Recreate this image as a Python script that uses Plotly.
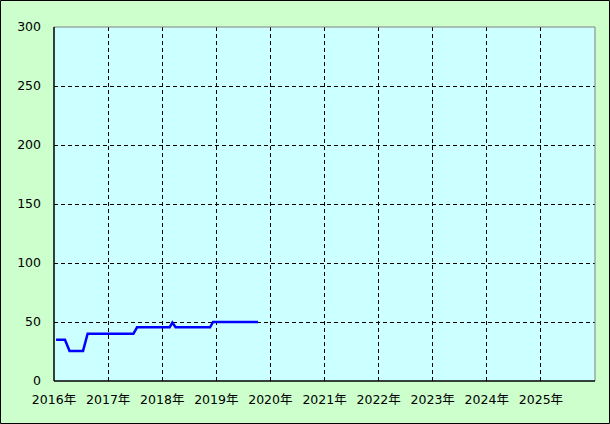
import plotly.graph_objects as go

dates = ["2016-01-15", "2016-03-15", "2016-04-15", "2016-07-15", "2016-08-15",
         "2017-06-20", "2017-07-15", "2018-02-20", "2018-03-10", "2018-04-01",
         "2018-11-20", "2018-12-10", "2019-10-10"]
values = [35, 35, 25.5, 25.5, 40, 40, 45.5, 45.5, 49.5, 45.5, 45.5, 50, 50]

y_ticks = [0, 50, 100, 150, 200, 250, 300]
x_ticks = [f"{y}-01-01" for y in range(2016, 2026)]
x_labels = [f"{y}年" for y in range(2016, 2026)]

W, H = 610, 424
ml, mr, mt, mb = 54, 15, 27, 43
pw, ph = W - ml - mr, H - mt - mb

fig = go.Figure()
fig.add_trace(go.Scatter(x=dates, y=values, mode="lines",
                         line=dict(color="#0000FF", width=2.5), hoverinfo="skip"))

font = dict(family="DejaVu Sans, Noto Sans CJK JP, sans-serif", size=12.5, color="#000000")

fig.update_layout(
    width=W, height=H,
    margin=dict(l=ml, r=mr, t=mt, b=mb, pad=0),
    paper_bgcolor="#CCFFCC", plot_bgcolor="#CCFFFF",
    showlegend=False, font=font,
    xaxis=dict(type="date", range=["2016-01-01", "2026-01-01"],
               tickvals=x_ticks, ticktext=x_labels, ticks="",
               showgrid=True, gridcolor="#000000", griddash="4px,3px", gridwidth=1,
               showline=False, zeroline=False, tickfont=font, ticklabelstandoff=9),
    yaxis=dict(range=[0, 300], tickvals=y_ticks, ticks="",
               showgrid=True, gridcolor="#000000", griddash="4px,3px", gridwidth=1,
               showline=False, zeroline=False, tickfont=font, ticklabelstandoff=12),
    shapes=[
        dict(type="line", xref="paper", yref="paper", x0=0, x1=1, y0=1, y1=1,
             line=dict(color="#808080", width=1)),
        dict(type="line", xref="paper", yref="paper", x0=1, x1=1, y0=0, y1=1,
             line=dict(color="#808080", width=1)),
        dict(type="line", xref="paper", yref="paper", x0=0, x1=0, y0=0, y1=1,
             line=dict(color="#000000", width=1.5)),
        dict(type="line", xref="paper", yref="paper", x0=0, x1=1, y0=0, y1=0,
             line=dict(color="#000000", width=1.5)),
        dict(type="rect", xref="paper", yref="paper",
             x0=-(ml - 0.5) / pw, x1=1 + (mr - 0.5) / pw,
             y0=-(mb - 0.5) / ph, y1=1 + (mt - 0.5) / ph,
             line=dict(color="#000000", width=1), fillcolor="rgba(0,0,0,0)"),
    ],
)

fig.write_html("out.html", config={"displayModeBar": False, "staticPlot": True},
               post_script="document.body.style.margin='0';document.body.style.overflow='hidden';")
